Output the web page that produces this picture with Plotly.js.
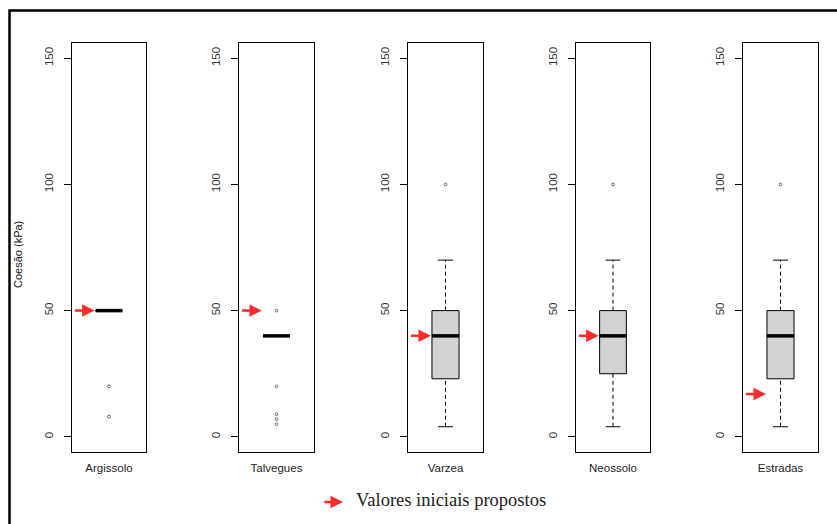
<!DOCTYPE html>
<html>
<head>
<meta charset="utf-8">
<script src="https://cdn.plot.ly/plotly-3.0.1.min.js"></script>
<style>html,body{margin:0;padding:0;background:#fff;}#chart{width:837px;height:524px;}</style>
</head>
<body>
<div id="chart"></div>
<script>
// ---- data ----
const categories = ['Argissolo', 'Talvegues', 'Varzea', 'Neossolo', 'Estradas'];
const lowerWhisker = [50, 40, 4, 4, 4];
const q1 = [50, 40, 23, 25, 23];
const median = [50, 40, 40, 40, 40];
const q3 = [50, 40, 50, 50, 50];
const upperWhisker = [50, 40, 70, 70, 70];
const outliers = [[20, 8], [50, 20, 9, 7, 5], [100], [100], [100]];
const initialValues = [50, 50, 40, 40, 17];
const yTicks = [0, 50, 100, 150];
const yTitle = 'Coesão (kPa)';
const legendText = 'Valores iniciais propostos';

// ---- layout constants ----
const W = 837, H = 524;
const panelsPx = [[72, 146], [239, 314], [408, 483], [576, 650], [743, 818]];
const topPx = 43, botPx = 452;
const boxHalf = 0.195, capHalf = 0.108;
const arrowColor = '#ff2b2b';
const fontFam = 'Liberation Sans, Arial, sans-serif';

const traces = [];
const layout = {
  width: W, height: H,
  margin: {l: 0, r: 0, t: 0, b: 0},
  paper_bgcolor: '#fff', plot_bgcolor: '#fff',
  showlegend: false,
  font: {family: fontFam, size: 11, color: '#333'},
  annotations: [],
  shapes: []
};

categories.forEach((cat, i) => {
  const n = i === 0 ? '' : String(i + 1);
  const xa = 'x' + n, ya = 'y' + n;
  const [l, r] = panelsPx[i];
  layout['xaxis' + n] = {
    domain: [l / W, r / W], range: [0.46, 1.54], anchor: ya,
    showgrid: false, zeroline: false,
    showline: true, mirror: true, linecolor: '#000', linewidth: 1,
    tickvals: [1], ticktext: [cat], ticks: '', ticklabelstandoff: 5,
    tickfont: {family: fontFam, size: 11.5, color: '#222'}, fixedrange: true
  };
  layout['yaxis' + n] = {
    domain: [1 - botPx / H, 1 - topPx / H], range: [-6, 156], anchor: xa,
    showgrid: false, zeroline: false,
    showline: true, mirror: true, linecolor: '#000', linewidth: 1,
    tickvals: yTicks, ticks: 'outside', ticklen: 7, tickcolor: '#000', tickwidth: 1,
    tickangle: -90, ticklabelstandoff: 6,
    tickfont: {family: fontFam, size: 11.5, color: '#333'}, fixedrange: true
  };

  // box body
  traces.push({
    type: 'box', xaxis: xa, yaxis: ya, x: [1],
    q1: [q1[i]], median: [median[i]], q3: [q3[i]],
    lowerfence: [q1[i]], upperfence: [q3[i]],
    width: 2 * boxHalf, whiskerwidth: 0, boxpoints: false,
    fillcolor: '#d3d3d3', line: {color: '#000', width: 1},
    hoverinfo: 'skip'
  });
  // whiskers (dashed)
  traces.push({
    type: 'scatter', mode: 'lines', xaxis: xa, yaxis: ya,
    x: [1, 1, null, 1, 1], y: [q3[i], upperWhisker[i], null, lowerWhisker[i], q1[i]],
    line: {color: '#000', width: 1, dash: '4px,3px'}, hoverinfo: 'skip'
  });
  // caps
  traces.push({
    type: 'scatter', mode: 'lines', xaxis: xa, yaxis: ya,
    x: [1 - capHalf, 1 + capHalf, null, 1 - capHalf, 1 + capHalf],
    y: [upperWhisker[i], upperWhisker[i], null, lowerWhisker[i], lowerWhisker[i]],
    line: {color: '#000', width: 1}, hoverinfo: 'skip'
  });
  // thick median
  traces.push({
    type: 'scatter', mode: 'lines', xaxis: xa, yaxis: ya,
    x: [1 - boxHalf, 1 + boxHalf], y: [median[i], median[i]],
    line: {color: '#000', width: 3.5}, hoverinfo: 'skip'
  });
  // outliers
  traces.push({
    type: 'scatter', mode: 'markers', xaxis: xa, yaxis: ya,
    x: outliers[i].map(() => 1), y: outliers[i],
    marker: {symbol: 'circle-open', size: 2.8, color: '#666', line: {width: 1, color: '#666'}},
    hoverinfo: 'skip'
  });
  // initial value arrow
  layout.annotations.push({
    xref: xa, yref: ya, axref: xa, ayref: ya,
    x: 0.79, y: initialValues[i], ax: 0.48, ay: initialValues[i],
    text: '', showarrow: true, arrowhead: 2, arrowsize: 1, arrowwidth: 2.5,
    arrowcolor: arrowColor, standoff: 0
  });
});

// y axis title
layout.annotations.push({
  xref: 'paper', yref: 'paper', x: 18 / W, y: 1 - 255 / H,
  text: yTitle, textangle: -90, showarrow: false,
  xanchor: 'center', yanchor: 'middle',
  font: {family: fontFam, size: 11, color: '#111'}
});
// legend arrow + text
layout.annotations.push({
  xref: 'paper', yref: 'paper', x: 343 / W, y: 1 - 502 / H, ax: -20, ay: 0,
  text: '', showarrow: true, arrowhead: 2, arrowsize: 1, arrowwidth: 2.5,
  arrowcolor: arrowColor, standoff: 0
});
layout.annotations.push({
  xref: 'paper', yref: 'paper', x: 354 / W, y: 1 - 500 / H,
  text: legendText, showarrow: false, xanchor: 'left', yanchor: 'middle',
  font: {family: 'Liberation Serif, Times New Roman, serif', size: 18.5, color: '#222'}
});
// outer frame
layout.shapes.push({
  type: 'rect', xref: 'paper', yref: 'paper',
  x0: 9.5 / W, x1: 1.02, y0: -0.02, y1: 1 - 10.5 / H,
  line: {color: '#000', width: 2.5}, fillcolor: 'rgba(0,0,0,0)'
});

Plotly.newPlot('chart', traces, layout, {displayModeBar: false, staticPlot: true});
</script>
</body>
</html>
